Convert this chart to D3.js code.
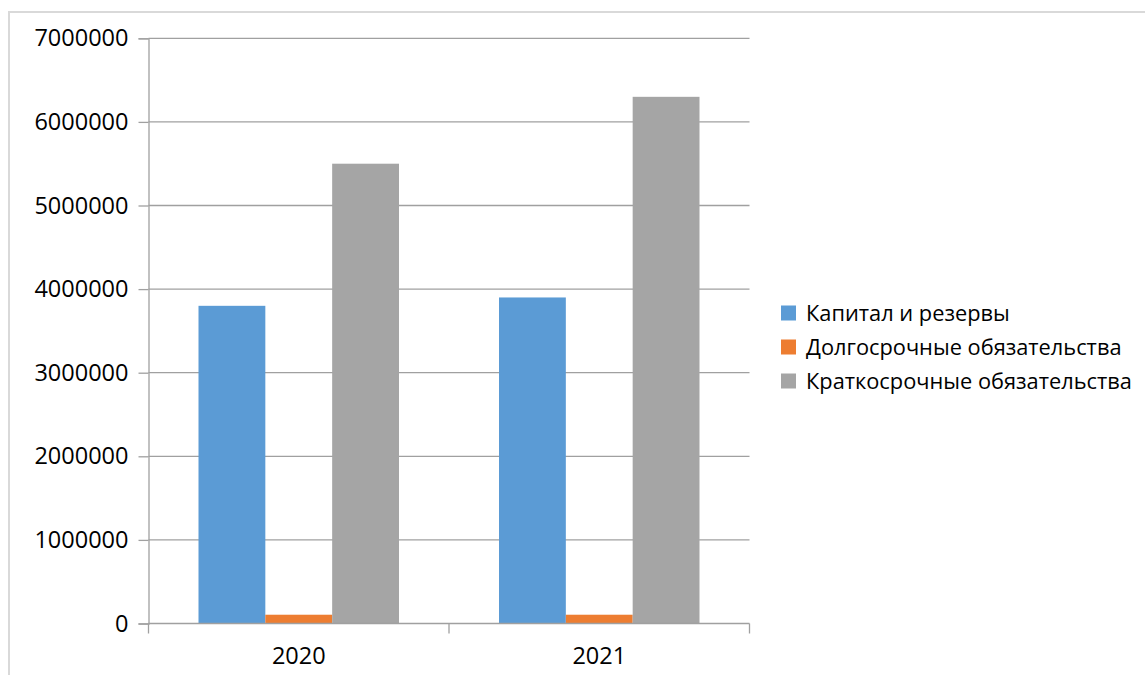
<!DOCTYPE html>
<html>
<head>
<meta charset="utf-8">
<script src="https://cdn.jsdelivr.net/npm/d3@7"></script>
<style>
  body { margin: 0; background: #fff; }
  text { font-family: "Open Sans", sans-serif; fill: #000; }
</style>
</head>
<body>
<script>
var w = 1145;
var h = 675;

var years = ['2020', '2021'];
var seriesNames = ['Капитал и резервы', 'Долгосрочные обязательства', 'Краткосрочные обязательства'];
var kapital = [3800000, 3900000];
var dolgo = [105000, 105000];
var kratko = [5500000, 6300000];
var yTicks = [0, 1000000, 2000000, 3000000, 4000000, 5000000, 6000000, 7000000];
var colors = ['#5b9bd5', '#ed7d31', '#a5a5a5'];

var seriesValues = [kapital, dolgo, kratko];

var svg = d3.select('body').append('svg')
    .attr('width', w)
    .attr('height', h);

// outer frame
svg.append('rect')
    .attr('x', 9).attr('y', 12)
    .attr('width', w + 20).attr('height', h + 20)
    .attr('fill', 'none')
    .attr('stroke', '#d9d9d9')
    .attr('stroke-width', 2);

var pLeft = 148.5, pRight = 749.5, pTop = 38.3, pBottom = 623.5;

var y = d3.scaleLinear().domain([0, 7000000]).range([pBottom, pTop]);
var x0 = d3.scaleBand().domain(years).range([pLeft, pRight]).paddingInner(0).paddingOuter(0);
var x1 = d3.scaleBand().domain(d3.range(3)).range([50, x0.bandwidth() - 50]);

// gridlines
svg.append('g').selectAll('line').data(yTicks.slice(1)).enter().append('line')
    .attr('x1', pLeft).attr('x2', pRight)
    .attr('y1', function(d){ return y(d); })
    .attr('y2', function(d){ return y(d); })
    .attr('stroke', '#a0a0a0')
    .attr('stroke-width', 1.3);

// bars
var groups = svg.append('g').selectAll('g').data(years).enter().append('g')
    .attr('transform', function(d){ return 'translate(' + x0(d) + ',0)'; });
groups.selectAll('rect').data(function(d, i){
  return seriesValues.map(function(s, k){ return {k: k, v: s[i]}; });
}).enter().append('rect')
    .attr('x', function(d){ return x1(d.k); })
    .attr('width', x1.bandwidth())
    .attr('y', function(d){ return y(d.v); })
    .attr('height', function(d){ return pBottom - y(d.v); })
    .attr('fill', function(d){ return colors[d.k]; });

// y axis
var yAxis = svg.append('g')
    .attr('transform', 'translate(' + pLeft + ',0)')
    .call(d3.axisLeft(y).tickValues(yTicks).tickFormat(d3.format('d')).tickSize(10).tickPadding(10));
yAxis.select('.domain').attr('stroke', '#a0a0a0').attr('stroke-width', 1.3);
yAxis.selectAll('.tick line').attr('stroke', '#a0a0a0').attr('stroke-width', 1.3);
yAxis.selectAll('text').attr('font-size', 23.5).attr('fill', '#000')
    .attr('font-family', '"Open Sans", sans-serif');

// x axis
var xAxis = svg.append('g')
    .attr('transform', 'translate(0,' + pBottom + ')');
xAxis.append('line')
    .attr('x1', pLeft).attr('x2', pRight)
    .attr('stroke', '#a0a0a0').attr('stroke-width', 1.3);
xAxis.selectAll('line.tk').data([pLeft, pLeft + x0.bandwidth(), pRight]).enter().append('line')
    .attr('class', 'tk')
    .attr('x1', function(d){ return d; }).attr('x2', function(d){ return d; })
    .attr('y1', 0).attr('y2', 10)
    .attr('stroke', '#a0a0a0').attr('stroke-width', 1.3);
xAxis.selectAll('text').data(years).enter().append('text')
    .attr('x', function(d){ return x0(d) + x0.bandwidth() / 2; })
    .attr('y', 40)
    .attr('text-anchor', 'middle')
    .attr('font-size', 23.5)
    .text(function(d){ return d; });

// legend
var legend = svg.append('g').attr('transform', 'translate(781,0)');
var rows = legend.selectAll('g').data(seriesNames).enter().append('g')
    .attr('transform', function(d, i){ return 'translate(0,' + (313 + i * 34) + ')'; });
rows.append('rect')
    .attr('x', 0).attr('y', -7.5)
    .attr('width', 15).attr('height', 15)
    .attr('fill', function(d, i){ return colors[i]; });
rows.append('text')
    .attr('x', 25).attr('y', 0)
    .attr('dy', '0.35em')
    .attr('font-size', 21.8)
    .text(function(d){ return d; });
</script>
</body>
</html>
